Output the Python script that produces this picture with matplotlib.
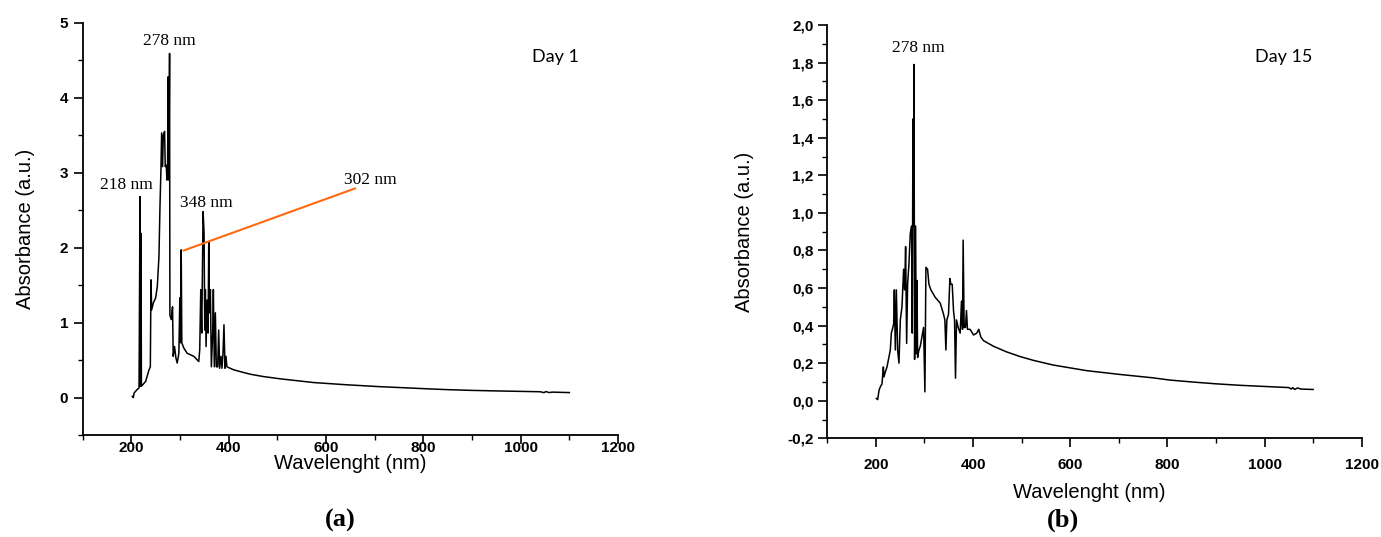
import matplotlib
matplotlib.use("Agg")
import matplotlib.pyplot as plt
from matplotlib.ticker import MultipleLocator, FixedLocator, FixedFormatter

# ---------------- data ----------------
day1_nm = [202, 204, 205.6, 211, 215.8, 217.8, 218.5, 219.9, 220.6, 229.4, 236.3, 239, 240.3,
           241.7, 245.1, 249.9, 253.3, 256.7, 258.8, 260.8, 262.2, 264.2, 265.6, 268.3, 269.6,
           271.7, 273.1, 274.4, 275.8, 277.2, 278.5, 279.2, 281.9, 284.6, 286, 288.7, 291.5,
           294.2, 297.6, 299.6, 301, 302.4, 303.7, 307.8, 314.6, 328.3, 338.5, 340.5, 342.6,
           344.6, 347.4, 349.4, 350.8, 352.1, 353.5, 355.5, 357.6, 359, 360.3, 362.4, 364.4,
           367.1, 368.5, 370.5, 372.6, 374.6, 377.4, 379.4, 381.4, 384.2, 386.2, 388.3, 390.3,
           392.4, 394.4, 396.4, 410, 427, 445, 471, 505, 574, 642, 710, 778, 812, 850, 900,
           950, 1000, 1040, 1048, 1052, 1058, 1065, 1100]
day1_abs = [0.015, 0.0, 0.06, 0.10, 0.13, 2.68, 0.15, 2.19, 0.15, 0.215, 0.37, 0.41, 1.57,
            1.17, 1.26, 1.33, 1.48, 1.88, 2.55, 3.04, 3.53, 3.08, 3.50, 3.55, 3.08,
            3.10, 2.90, 3.08, 4.28, 2.90, 4.59, 1.10, 1.04, 1.21, 0.55, 0.68, 0.53,
            0.46, 0.59, 1.33, 0.73, 1.97, 0.73, 0.66, 0.59, 0.55, 0.48, 0.64, 1.44,
            0.86, 2.48, 2.19, 0.90, 1.44, 0.68, 1.30, 0.86, 2.08, 1.13, 1.44, 0.41,
            0.86, 1.44, 0.41, 1.13, 0.41, 0.41, 0.90, 0.39, 0.55, 0.39, 0.59, 0.97,
            0.39, 0.55, 0.41, 0.37, 0.34, 0.31, 0.28, 0.25, 0.20, 0.17, 0.145, 0.125, 0.115, 0.105,
            0.095, 0.088, 0.082, 0.077, 0.065, 0.08, 0.066, 0.072, 0.066]

day15_nm = [201, 203.7, 206.5, 209.2, 212.6, 215.4, 216.7, 219.5, 222.9, 226.3, 229.7, 231.8,
            234.5, 236.6, 238, 240, 242.1, 244.8, 247.5, 250.3, 253.7, 257.1, 259.2, 261.2,
            263.3, 265.3, 268.1, 270.8, 273.6, 274.9, 276.3, 277.7, 278.4, 279.7, 281.8, 283.1,
            284.5, 285.9, 288.6, 291.4, 294.8, 298.2, 300.9, 303, 306.4, 309.2, 313.3, 322.2,
            332.4, 339.3, 342, 344.1, 346.1, 349.5, 352.3, 354.3, 357.1, 359.8, 361.9, 363.9,
            366, 369.4, 373.5, 376.2, 378.3, 379.6, 381.7, 384.4, 386.5, 388.5, 394, 400.9,
            407.7, 411.8, 415.9, 421.4, 442, 469, 497, 524, 565, 634, 702, 770, 805, 850, 900,
            950, 1000, 1050, 1055, 1058, 1062, 1068, 1075, 1100]
day15_abs = [0.012, 0.006, 0.056, 0.074, 0.09, 0.18, 0.127, 0.154, 0.18, 0.225, 0.27, 0.36,
             0.385, 0.41, 0.59, 0.27, 0.59, 0.27, 0.20, 0.43, 0.50, 0.70, 0.59, 0.82,
             0.305, 0.62, 0.73, 0.89, 0.93, 0.36, 1.50, 0.93, 1.79, 0.22, 0.93, 0.25,
             0.64, 0.23, 0.27, 0.29, 0.34, 0.39, 0.047, 0.71, 0.70, 0.62, 0.59, 0.55,
             0.52, 0.46, 0.43, 0.27, 0.43, 0.46, 0.65, 0.62, 0.62, 0.48, 0.43, 0.12,
             0.43, 0.39, 0.36, 0.53, 0.38, 0.855, 0.39, 0.39, 0.48, 0.38, 0.38, 0.35,
             0.36, 0.38, 0.34, 0.32, 0.29, 0.26, 0.235, 0.215, 0.19, 0.16, 0.14, 0.122, 0.11,
             0.10, 0.09, 0.082, 0.076, 0.07, 0.062, 0.07, 0.06, 0.068, 0.062, 0.06]

x_ticks = [200, 400, 600, 800, 1000, 1200]
x_ticklabels = ["200", "400", "600", "800", "1000", "1200"]
y1_ticks = [0, 1, 2, 3, 4, 5]
y1_ticklabels = ["0", "1", "2", "3", "4", "5"]
y15_ticks = [-0.2, 0.0, 0.2, 0.4, 0.6, 0.8, 1.0, 1.2, 1.4, 1.6, 1.8, 2.0]
y15_ticklabels = ["-0,2", "0,0", "0,2", "0,4", "0,6", "0,8", "1,0", "1,2", "1,4", "1,6", "1,8", "2,0"]

day1_peaks = ["218 nm", "278 nm", "348 nm", "302 nm"]
day15_peaks = ["278 nm"]

# ---------------- figure ----------------
W, H = 1381, 537
fig = plt.figure(figsize=(W / 100, H / 100), dpi=100)


def frac(x0, y0, x1, y1):
    return [x0 / W, 1 - y1 / H, (x1 - x0) / W, (y1 - y0) / H]


ax1 = fig.add_axes(frac(82.7, 22.7, 618, 435))
ax2 = fig.add_axes(frac(827.3, 25, 1361.7, 438.3))

tick_font = dict(family="Liberation Sans", weight="bold", size=11)
label_font = dict(family="Liberation Sans", size=14.5)
serif = "Liberation Serif"

for ax in (ax1, ax2):
    for s in ("top", "right"):
        ax.spines[s].set_visible(False)
    for s in ("left", "bottom"):
        ax.spines[s].set_linewidth(1.3)
    ax.set_xlim(100, 1200)
    ax.xaxis.set_major_locator(FixedLocator(x_ticks))
    ax.xaxis.set_major_formatter(FixedFormatter(x_ticklabels))
    ax.xaxis.set_minor_locator(MultipleLocator(100))
    ax.tick_params(which="major", direction="out", length=6.5, width=1.2)
    ax.tick_params(which="minor", direction="out", length=3.6, width=1.0)

# panel a
ax1.plot(day1_nm, day1_abs, color="black", lw=1.1)
ax1.set_ylim(-0.5, 5)
ax1.yaxis.set_major_locator(FixedLocator(y1_ticks))
ax1.yaxis.set_major_formatter(FixedFormatter(y1_ticklabels))
ax1.yaxis.set_minor_locator(MultipleLocator(0.5))
ax1.tick_params(axis="x", which="major", pad=-2.5)
ax1.tick_params(axis="y", which="major", pad=4)
ax1.set_xlabel("Wavelenght (nm)", **label_font)
ax1.set_ylabel("Absorbance (a.u.)", **label_font)
ax1.xaxis.set_label_coords(0.5, -0.047)
ax1.yaxis.set_label_coords(-0.09, 0.5)

ax1.text(190, 2.84, day1_peaks[0], family=serif, size=12.5, ha="center", va="center")
ax1.text(278, 4.75, day1_peaks[1], family=serif, size=12.5, ha="center", va="center")
ax1.text(353, 2.6, day1_peaks[2], family=serif, size=12.5, ha="center", va="center")
ax1.text(692, 2.9, day1_peaks[3], family=serif, size=12.5, ha="center", va="center")
ax1.annotate("", xy=(307, 1.96), xytext=(660, 2.79),
             arrowprops=dict(arrowstyle="-", color="#ff6a10", lw=1.5, shrinkA=0, shrinkB=0))
ax1.text(0.839, 0.917, "Day 1", transform=ax1.transAxes, family="Lato", size=13,
         ha="left", va="center")

# panel b
ax2.plot(day15_nm, day15_abs, color="black", lw=1.1)
ax2.set_ylim(-0.2, 2.0)
ax2.yaxis.set_major_locator(FixedLocator(y15_ticks))
ax2.yaxis.set_major_formatter(FixedFormatter(y15_ticklabels))
ax2.yaxis.set_minor_locator(MultipleLocator(0.1))
ax2.tick_params(axis="x", which="major", pad=8)
ax2.tick_params(axis="y", which="major", pad=3.5)
ax2.set_xlabel("Wavelenght (nm)", **label_font)
ax2.set_ylabel("Absorbance (a.u.)", **label_font)
ax2.xaxis.set_label_coords(0.49, -0.108)
ax2.yaxis.set_label_coords(-0.138, 0.5)
ax2.text(288, 1.876, day15_peaks[0], family=serif, size=12.5, ha="center", va="center")
ax2.text(0.80, 0.9226, "Day 15", transform=ax2.transAxes, family="Lato", size=13,
         ha="left", va="center")

for ax in (ax1, ax2):
    for lab in ax.get_xticklabels() + ax.get_yticklabels():
        lab.set_fontfamily(tick_font["family"])
        lab.set_fontweight(tick_font["weight"])
        lab.set_fontsize(tick_font["size"])

fig.text(340 / W, 1 - 520 / H, "(a)", family=serif, weight="bold", size=19,
         ha="center", va="center")
fig.text(1063 / W, 1 - 520 / H, "(b)", family=serif, weight="bold", size=19,
         ha="center", va="center")

fig.savefig("out.png", dpi=100)
